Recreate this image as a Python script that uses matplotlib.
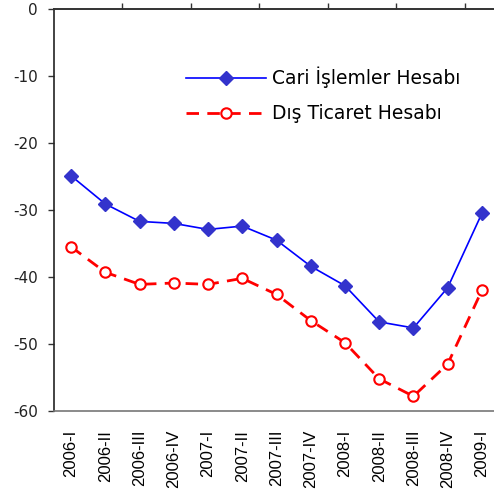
import matplotlib
matplotlib.use('Agg')
import matplotlib.pyplot as plt

plt.rcParams['axes.unicode_minus'] = False

quarters = ["2006-I", "2006-II", "2006-III", "2006-IV", "2007-I", "2007-II",
            "2007-III", "2007-IV", "2008-I", "2008-II", "2008-III", "2008-IV", "2009-I"]
cari = [-24.9, -29.1, -31.7, -32.0, -32.9, -32.4, -34.5, -38.4, -41.3, -46.7, -47.6, -41.6, -30.5]
dis_ticaret = [-35.5, -39.3, -41.1, -40.9, -41.1, -40.2, -42.6, -46.5, -49.8, -55.2, -57.8, -53.0, -42.0]
y_ticks = [0, -10, -20, -30, -40, -50, -60]

fig = plt.figure(figsize=(4.94, 4.92), dpi=100)
ax = fig.add_axes([54 / 494, 1 - 411 / 492, 445 / 494, 402 / 492])

x = list(range(len(quarters)))
ax.plot(x, cari, color='#0000ff', lw=1.2, marker='D', ms=7.5,
        mfc='#3333cc', mec='#3333cc', label='Cari İşlemler Hesabı')
ax.plot(x, dis_ticaret, color='#ff0000', lw=2, ls=(0, (4.5, 3)), marker='o', ms=7.5,
        mfc='white', mec='#ff0000', mew=1.5, label='Dış Ticaret Hesabı')

ax.set_xlim(-0.5, len(quarters) - 0.5)
ax.set_ylim(-60, 0)
ax.set_yticks(y_ticks)
ax.set_yticklabels([str(v) for v in y_ticks], fontsize=11, color='#222222')
ax.set_xticks(x)
ax.set_xticklabels(quarters, rotation=90, fontsize=12, family='Liberation Sans')
ax.set_xticks([1.5, 3.5, 5.5, 7.5, 9.5, 11.5], minor=True)

ax.tick_params(axis='x', which='major', length=0, pad=13.5)
ax.tick_params(axis='x', which='minor', bottom=False, top=True, direction='out',
               length=4, width=1, color='#333333')
ax.tick_params(axis='y', length=4.5, width=1, pad=7, color='#333333')

ax.spines['top'].set_color('#333333')
ax.spines['top'].set_linewidth(1.4)
ax.spines['left'].set_color('#222222')
ax.spines['left'].set_linewidth(1.2)
ax.spines['bottom'].set_color('#777777')
ax.spines['bottom'].set_linewidth(1.2)
ax.spines['right'].set_visible(False)

leg = ax.legend(loc='upper left', bbox_to_anchor=(186 / 494, 1 - 67 / 492),
                bbox_transform=fig.transFigure, frameon=False, fontsize=13.5,
                handlelength=4.27, handletextpad=0.32, labelspacing=0.84,
                borderpad=0, borderaxespad=0)

fig.savefig('out.png', dpi=100)
plt.close(fig)
